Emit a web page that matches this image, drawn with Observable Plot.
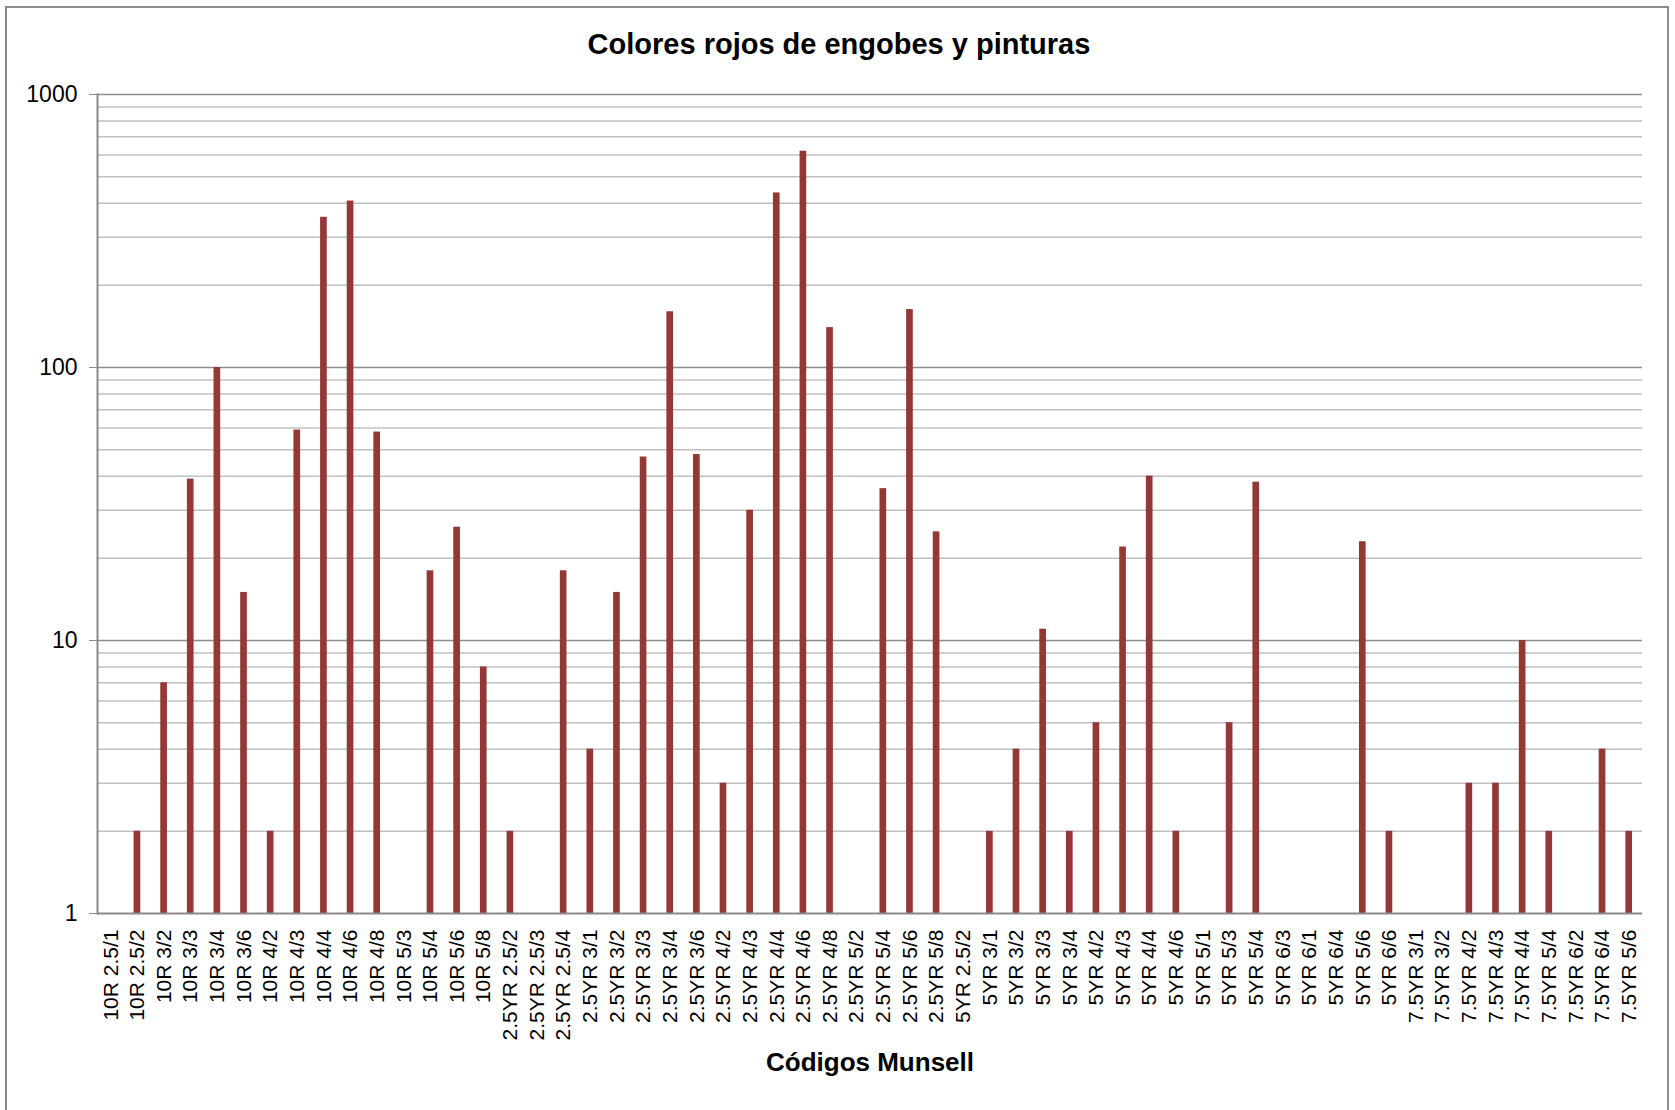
<!DOCTYPE html>
<html>
<head>
<meta charset="utf-8">
<script src="https://cdn.jsdelivr.net/npm/d3@7"></script>
<script src="https://cdn.jsdelivr.net/npm/@observablehq/plot@0.6"></script>
<style>
  html, body { margin: 0; padding: 0; background: #fff; overflow: hidden; }
  body { width: 1675px; height: 1110px; position: relative; font-family: "Liberation Sans", Arial, sans-serif; }
  #frame { position: absolute; left: 5px; top: 6px; width: 1664px; height: 1200px; border: 2px solid #8c8c8c; box-sizing: border-box; }
  #title { position: absolute; top: 30px; left: 839px; transform: translateX(-50%); white-space: nowrap;
           font-size: 29px; line-height: 29px; font-weight: bold; color: #000; }
  #chart { position: absolute; top: 80px; left: 0; }
  #xtitle { position: absolute; top: 1049px; left: 870px; transform: translateX(-50%); white-space: nowrap;
            font-size: 26px; line-height: 26px; font-weight: bold; color: #000; }
</style>
</head>
<body>
<div id="frame"></div>
<div id="title">Colores rojos de engobes y pinturas</div>
<div id="chart"></div>
<div id="xtitle">Códigos Munsell</div>
<script>
// Munsell codes along the category axis
const categories = [
  "10R 2.5/1", "10R 2.5/2", "10R 3/2", "10R 3/3", "10R 3/4", "10R 3/6", "10R 4/2", "10R 4/3",
  "10R 4/4", "10R 4/6", "10R 4/8", "10R 5/3", "10R 5/4", "10R 5/6", "10R 5/8",
  "2.5YR 2.5/2", "2.5YR 2.5/3", "2.5YR 2.5/4", "2.5YR 3/1", "2.5YR 3/2", "2.5YR 3/3", "2.5YR 3/4",
  "2.5YR 3/6", "2.5YR 4/2", "2.5YR 4/3", "2.5YR 4/4", "2.5YR 4/6", "2.5YR 4/8", "2.5YR 5/2",
  "2.5YR 5/4", "2.5YR 5/6", "2.5YR 5/8",
  "5YR 2.5/2", "5YR 3/1", "5YR 3/2", "5YR 3/3", "5YR 3/4", "5YR 4/2", "5YR 4/3", "5YR 4/4",
  "5YR 4/6", "5YR 5/1", "5YR 5/3", "5YR 5/4", "5YR 6/3", "5YR 6/1", "5YR 6/4", "5YR 5/6", "5YR 6/6",
  "7.5YR 3/1", "7.5YR 3/2", "7.5YR 4/2", "7.5YR 4/3", "7.5YR 4/4", "7.5YR 5/4", "7.5YR 6/2",
  "7.5YR 6/4", "7.5YR 5/6"
];

// Number of slips and paints recorded for each code (log scale, 1 = baseline)
const counts = [
  1, 2, 7, 39, 100, 15, 2, 59,
  355, 407, 58, 1, 18, 26, 8,
  2, 1, 18, 4, 15, 47, 160,
  48, 3, 30, 436, 620, 140, 1,
  36, 163, 25,
  1, 2, 4, 11, 2, 5, 22, 40,
  2, 1, 5, 38, 1, 1, 1, 23, 2,
  1, 1, 3, 3, 10, 2, 1,
  4, 2
];

// Labelled decades of the logarithmic value axis
const yTicks = [1, 10, 100, 1000];

// Intermediate gridlines inside each decade (2..9 × 10^k)
const minorGrid = [];
for (const decade of [1, 10, 100]) {
  for (let m = 2; m <= 9; m++) minorGrid.push(m * decade);
}

const data = categories.map((code, i) => ({ code, n: counts[i] }));

const chart = Plot.plot({
  width: 1675,
  height: 965,
  marginLeft: 97,
  marginRight: 33,
  marginTop: 14,
  marginBottom: 132,
  style: { fontFamily: "'Liberation Sans', Arial, sans-serif", color: "#000", background: "transparent" },
  x: { domain: categories, paddingInner: 0.75, paddingOuter: 0.375, align: 0.5, label: null },
  y: { type: "log", domain: [1, 1000], label: null },
  marks: [
    Plot.ruleY(minorGrid, { stroke: "#c0c0c0", strokeWidth: 1.5 }),
    Plot.ruleY(yTicks.slice(1), { stroke: "#8e8e8e", strokeWidth: 1.5 }),
    Plot.barY(data, { x: "code", y1: 1, y2: "n", fill: "#953735" }),
    Plot.ruleY([1], { stroke: "#8a8a8a", strokeWidth: 2 }),
    Plot.frame({ anchor: "left", stroke: "#8a8a8a", strokeWidth: 2 }),
    Plot.axisY({ ticks: yTicks, tickFormat: (d) => String(d), tickSize: 8, tickPadding: 12,
                 stroke: "#8a8a8a", fontSize: 23, label: null }),
    Plot.axisX({ tickRotate: -90, tickSize: 0, tickPadding: 16, fontSize: 21, label: null })
  ]
});

document.getElementById("chart").appendChild(chart);
</script>
</body>
</html>
